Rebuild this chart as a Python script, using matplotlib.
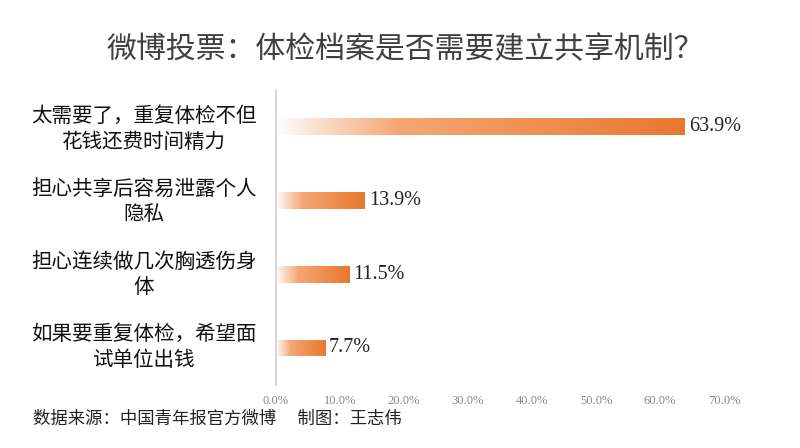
import matplotlib
matplotlib.use('Agg')
import matplotlib.pyplot as plt
import numpy as np
from matplotlib.colors import LinearSegmentedColormap

plt.rcParams['font.family'] = ['Noto Sans CJK SC', 'DejaVu Sans']

categories = ['太需要了，重复体检不但\n花钱还费时间精力',
              '担心共享后容易泄露个人\n隐私',
              '担心连续做几次胸透伤身\n体',
              '如果要重复体检，希望面\n试单位出钱']
values = [63.9, 13.9, 11.5, 7.7]
xticks = [0, 10, 20, 30, 40, 50, 60, 70]

cmap = LinearSegmentedColormap.from_list(
    'orange_fade', [(0, '#FFFFFF'), (0.08, '#FBE6D8'), (0.3, '#F4A773'), (1, '#E9772F')])

fig = plt.figure(figsize=(8, 4.48), dpi=100)
ax = fig.add_axes([0.345, 0.141, 0.56, 0.658])

ypos = np.arange(len(values))
bars = ax.barh(ypos, values, height=0.23, color='none', edgecolor='none')
grad = np.linspace(0, 1, 256).reshape(1, -1)
for b, v in zip(bars, values):
    y0 = b.get_y()
    im = ax.imshow(grad, extent=[0, v, y0, y0 + b.get_height()], aspect='auto',
                   cmap=cmap, origin='lower', zorder=2)
    im.set_clip_path(b)
    ax.text(v + 0.6, y0 + b.get_height() / 2, f'{v:.1f}%', va='center', ha='left',
            fontsize=14.5, family='Liberation Serif', color='#222222')

ax.set_xlim(0, 70)
ax.set_ylim(len(values) - 0.5, -0.5)
ax.set_xticks(xticks)
ax.set_xticklabels([f'{t:.1f}%' for t in xticks], family='Liberation Serif',
                   fontsize=9, color='#888888')
ax.tick_params(axis='x', length=0, pad=7)
ax.set_yticks([])
for s in ['top', 'right', 'bottom']:
    ax.spines[s].set_visible(False)
ax.spines['left'].set_color('#D9D9D9')
ax.spines['left'].set_linewidth(1.5)

for i, c in enumerate(categories):
    fig.text(0.18, 1 - (129 + i * 72.7) / 448, c, ha='center', va='center',
             fontsize=14.8, linespacing=1.2, color='#111111')

fig.text(0.506, 0.888, '微博投票：体检档案是否需要建立共享机制？', ha='center', va='center',
         fontsize=21.5, color='#404040')
fig.text(0.041, 0.064, '数据来源：中国青年报官方微博\u3000 制图：王志伟', ha='left', va='center',
         fontsize=12.5, color='#222222')

fig.savefig('out.png', dpi=100)
